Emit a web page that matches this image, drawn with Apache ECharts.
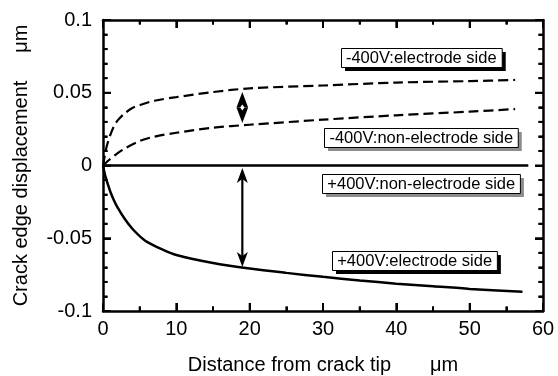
<!DOCTYPE html>
<html><head><meta charset="utf-8">
<script src="https://cdn.jsdelivr.net/npm/echarts/dist/echarts.min.js"></script>
<style>html,body{margin:0;padding:0;background:#fff}#c{width:558px;height:376px}</style>
</head><body><div id="c"></div>
<script>
// ---- data ----
var negElectrode = [[0,0],[0.5,0.013],[1,0.021],[1.5,0.027],[2,0.031],[3,0.036],[4,0.0395],[5,0.0415],[7,0.0445],[10,0.047],[15,0.0505],[20,0.053],[30,0.055],[40,0.057],[50,0.058],[56.2,0.0588]];
var negNonElectrode = [[0,0],[1,0.0045],[2,0.0085],[3,0.0118],[5,0.0168],[7,0.0198],[10,0.0225],[15,0.026],[20,0.028],[30,0.0315],[40,0.0345],[50,0.037],[56.2,0.0388]];
var posNonElectrode = [[0,0],[58,0]];
var posElectrode = [[0,0],[0.3,-0.007],[0.7,-0.0135],[1,-0.018],[1.5,-0.024],[2,-0.029],[3,-0.037],[4,-0.0435],[5,-0.0485],[6,-0.0525],[8,-0.0575],[10,-0.0615],[15,-0.067],[20,-0.0708],[25,-0.0738],[30,-0.0765],[35,-0.079],[40,-0.0812],[45,-0.083],[50,-0.0848],[57.2,-0.0867]];
var arrows = [[19, 0.0506, 0.0292], [19, -0.0017, -0.0697]];
var labelNames = ['-400V:electrode side','-400V:non-electrode side','+400V:non-electrode side','+400V:electrode side'];
var labelPos = [[43.4,0.0744],[43.4,0.0190],[43.4,-0.0122],[42.5,-0.0650]];
var xMajorTicks = [0,10,20,30,40,50,60];
var xMinorTicks = [5,15,25,35,45,55];
var yMajorTicks = [-0.1,-0.05,0,0.05,0.1];
var yMinorTicks = [-0.09,-0.08,-0.07,-0.06,-0.04,-0.03,-0.02,-0.01,0.01,0.02,0.03,0.04,0.06,0.07,0.08,0.09];

var FONT = 'Arial, "Liberation Sans", sans-serif';
var chart = echarts.init(document.getElementById('c'), null, {renderer:'canvas'});

function axisCommon(show, nMinor) {
  return {
    axisLine: {show:true, onZero:false, lineStyle:{color:'#000', width:2.5}},
    axisTick: {show:true, inside:true, length:8, lineStyle:{color:'#000', width:2}},
    minorTick: {show:true, splitNumber:nMinor, length:4.5, lineStyle:{color:'#000', width:2}},
    splitLine: {show:false},
    axisLabel: {show:show, color:'#000', fontSize:20, fontFamily:FONT}
  };
}
var xa = axisCommon(true, 2), xt = axisCommon(false, 2), ya = axisCommon(true, 5), yr = axisCommon(false, 5);
[xa, xt].forEach(function(a, i){
  Object.assign(a, {type:'value', min:0, max:60, interval:10, position: i ? 'top':'bottom'});
});
xa.axisLabel.margin = 8;
xa.name = 'Distance from crack tip       \u03bcm';
xa.nameLocation = 'middle'; xa.nameGap = 44;
xa.nameTextStyle = {color:'#000', fontSize:20, fontFamily:FONT};
[ya, yr].forEach(function(a, i){
  Object.assign(a, {type:'value', min:-0.1, max:0.1, interval:0.05, position: i ? 'right':'left'});
});
ya.axisLabel.margin = 11;
ya.axisLabel.formatter = function(v){ return String(Math.round(v*100)/100); };
ya.name = 'Crack edge displacement     \u03bcm';
ya.nameLocation = 'middle'; ya.nameGap = 72;
ya.nameTextStyle = {color:'#000', fontSize:20, fontFamily:FONT};

var lineBase = {type:'line', xAxisIndex:0, yAxisIndex:0, showSymbol:false, symbol:'none', smooth:0.3, silent:true, animation:false};

var mctx = document.createElement('canvas').getContext('2d');
var LFS = 16.5;
mctx.font = LFS + 'px ' + FONT;

function tickPoly(x1, y1, x2, y2, w) {
  return {type:'polygon', shape:{points:[[x1 - (y1===y2?0:w/2), y1 - (y1===y2?w/2:0)], [x2 - (y1===y2?0:w/2), y2 - (y1===y2?w/2:0)], [x2 + (y1===y2?0:w/2), y2 + (y1===y2?w/2:0)], [x1 + (y1===y2?0:w/2), y1 + (y1===y2?w/2:0)]]}, style:{fill:'#000'}};
}

function buildTicks(api) {
  var ch = [];
  function xt_(v, len){
    var b = api.coord([v, -0.1]), t = api.coord([v, 0.1]);
    ch.push(tickPoly(b[0], b[1], b[0], b[1]-len, 2));
    ch.push(tickPoly(t[0], t[1], t[0], t[1]+len, 2));
  }
  function yt_(v, len){
    var l = api.coord([0, v]), r = api.coord([60, v]);
    ch.push(tickPoly(l[0], l[1], l[0]+len, l[1], 2));
    ch.push(tickPoly(r[0], r[1], r[0]-len, r[1], 2));
  }
  xMajorTicks.forEach(function(v){ xt_(v, 8); });
  xMinorTicks.forEach(function(v){ xt_(v, 4.5); });
  yMajorTicks.forEach(function(v){ yt_(v, 8); });
  yMinorTicks.forEach(function(v){ yt_(v, 4.5); });
  return ch;
}

chart.setOption({
  animation:false,
  grid:{left:103, right:15, top:20, bottom:65, containLabel:false, outerBoundsMode:'none'},
  xAxis:[xa, xt],
  yAxis:[ya, yr],
  series:[
    Object.assign({}, lineBase, {name:'-400V:electrode side', data:negElectrode, lineStyle:{color:'#000', width:2.2, type:[10,5]}}),
    Object.assign({}, lineBase, {name:'-400V:non-electrode side', data:negNonElectrode, lineStyle:{color:'#000', width:2.2, type:[10,5]}}),
    Object.assign({}, lineBase, {name:'+400V:non-electrode side', data:posNonElectrode, smooth:false, lineStyle:{color:'#000', width:2.5}}),
    Object.assign({}, lineBase, {name:'+400V:electrode side', data:posElectrode, lineStyle:{color:'#000', width:2.5}}),
    {
      type:'custom', xAxisIndex:0, yAxisIndex:0, silent:true, data:arrows,
      renderItem:function(params, api){
        var p1 = api.coord([api.value(0), api.value(1)]);
        var p2 = api.coord([api.value(0), api.value(2)]);
        var x = p1[0], top = p1[1], bot = p2[1];
        var big = params.dataIndex === 0;
        var hl = big ? 15.5 : 15, hw = big ? 5.8 : 5.5;
        var children = big ? buildTicks(api) : [];
        if (!big) {
          children.push({type:'line', shape:{x1:x, y1:top+6, x2:x, y2:bot-6}, style:{stroke:'#000', lineWidth:2.2}});
        }
        children.push({type:'polygon', shape:{points:[[x,top],[x+hw,top+hl],[x,top+hl-(big?0:4)],[x-hw,top+hl]]}, style:{fill:'#000'}});
        children.push({type:'polygon', shape:{points:[[x,bot],[x+hw,bot-hl],[x,bot-hl+(big?0:4)],[x-hw,bot-hl]]}, style:{fill:'#000'}});
        if (big) {
          var m = (top+bot)/2;
          children.push({type:'polygon', shape:{points:[[x,m-3],[x+2.2,m],[x,m+3],[x-2.2,m]]}, style:{fill:'#fff'}});
        }
        return {type:'group', children:children};
      }
    },
    {
      type:'custom', xAxisIndex:0, yAxisIndex:0, silent:true, z:10,
      data: labelPos.map(function(p, i){ return [p[0], p[1], i]; }),
      renderItem:function(params, api){
        var c = api.coord([api.value(0), api.value(1)]);
        var i = api.value(2);
        var txt = labelNames[i];
        var w = mctx.measureText(txt).width + 10, h = 19;
        var x0 = Math.round(c[0] - w/2) + 0.5, y0 = Math.round(c[1] - h/2) + 0.5;
        var dark = (i === 0 || i === 3);
        return {type:'group', children:[
          {type:'rect', shape:{x:x0+3.5, y:y0+3.5, width:w, height:h}, style:{fill: dark ? '#000' : '#8c8c8c'}},
          {type:'rect', shape:{x:x0, y:y0, width:w, height:h}, style:{fill:'#fff', stroke:'#000', lineWidth:1}},
          {type:'text', style:{text:txt, x:c[0], y:y0 + h/2 + 0.5, align:'center', verticalAlign:'middle', fill:'#000', fontSize:LFS, fontFamily:FONT}}
        ]};
      }
    }
  ]
});
</script></body></html>
